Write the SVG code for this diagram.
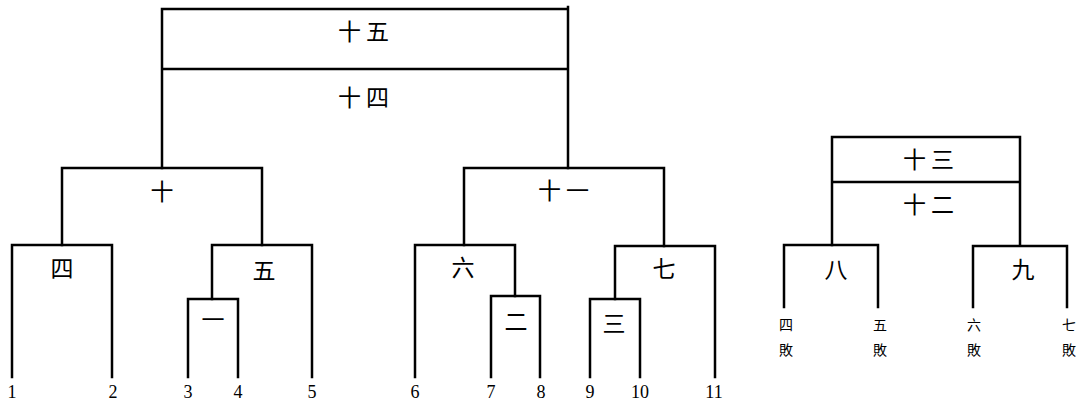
<svg xmlns="http://www.w3.org/2000/svg" width="1082" height="405" viewBox="0 0 1082 405">
<style>
.ln{fill:none;stroke:#000;stroke-width:2.5;stroke-linecap:square}
.lb{font-family:"Noto Sans CJK SC","Noto Sans CJK TC",sans-serif;font-size:23px;text-anchor:middle;dominant-baseline:central;fill:#000}
.w{letter-spacing:5px}
.sm{font-family:"Noto Sans CJK TC","Noto Sans CJK SC",sans-serif;font-size:14px;text-anchor:middle;dominant-baseline:central;fill:#000}
.num{font-family:"Liberation Serif",serif;font-size:18px;text-anchor:middle;fill:#000}
</style>
<rect width="1082" height="405" fill="#fff"/>
<g id="connectors">
<path class="ln" d="M162,168 V9 H566 M162,69 H566 M568,7 V168"/>
<path class="ln" d="M62,245 V168 H262 V245"/>
<path class="ln" d="M464,245 V168 H664 V246"/>
<path class="ln" d="M12,377 V245 H112 V377"/>
<path class="ln" d="M212,299 V245 H312 V377"/>
<path class="ln" d="M188,377 V299 H238 V377"/>
<path class="ln" d="M415,377 V245 H515 V296"/>
<path class="ln" d="M491,377 V296 H540 V377"/>
<path class="ln" d="M615,299 V246 H715 V377"/>
<path class="ln" d="M590,377 V299 H640 V377"/>
<path class="ln" d="M832,245 V137 H1020 V245 M832,182 H1020"/>
<path class="ln" d="M784,307 V245 H878 V307"/>
<path class="ln" d="M973,307 V246 H1067 V307"/>
</g>
<g id="n15"><text class="lb w" x="366" y="30">十五</text></g>
<g id="n14"><text class="lb w" x="366" y="96">十四</text></g>
<g id="n10"><text class="lb" x="162" y="190">十</text></g>
<g id="n11"><text class="lb w" x="566" y="189">十一</text></g>
<g id="n4"><text class="lb" x="62" y="267">四</text></g>
<g id="n5"><text class="lb" x="264" y="269">五</text></g>
<g id="n1"><text class="lb" x="213" y="318">一</text></g>
<g id="n6"><text class="lb" x="463" y="266">六</text></g>
<g id="n2"><text class="lb" x="516" y="320">二</text></g>
<g id="n7"><text class="lb" x="664" y="267">七</text></g>
<g id="n3"><text class="lb" x="614" y="322">三</text></g>
<g id="n13"><text class="lb w" x="931" y="158">十三</text></g>
<g id="n12"><text class="lb w" x="931" y="203">十二</text></g>
<g id="n8"><text class="lb" x="836" y="268">八</text></g>
<g id="n9"><text class="lb" x="1023" y="268">九</text></g>
<g id="seeds">
<text class="num" x="12" y="398">1</text>
<text class="num" x="113" y="398">2</text>
<text class="num" x="188" y="398">3</text>
<text class="num" x="238" y="398">4</text>
<text class="num" x="312" y="398">5</text>
<text class="num" x="415" y="398">6</text>
<text class="num" x="491" y="398">7</text>
<text class="num" x="541" y="398">8</text>
<text class="num" x="590" y="398">9</text>
<text class="num" x="640" y="398">10</text>
<text class="num" x="714" y="398">11</text>
</g>
<g id="losers">
<text class="sm" x="786" y="324">四</text><text class="sm" x="786" y="349">敗</text>
<text class="sm" x="880" y="324">五</text><text class="sm" x="880" y="349">敗</text>
<text class="sm" x="974" y="324">六</text><text class="sm" x="974" y="349">敗</text>
<text class="sm" x="1069" y="324">七</text><text class="sm" x="1069" y="349">敗</text>
</g>
</svg>
